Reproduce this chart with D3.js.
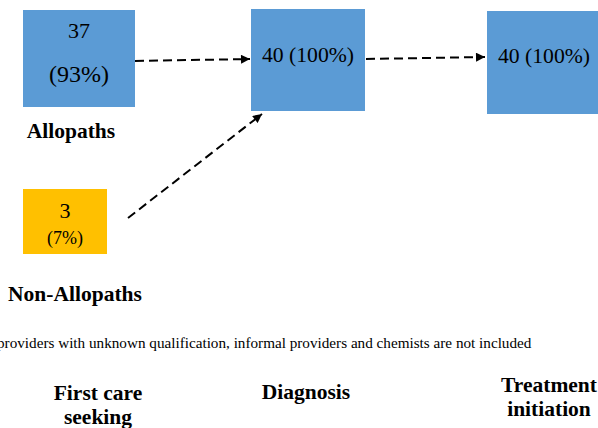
<!DOCTYPE html>
<html>
<head>
<meta charset="utf-8">
<script src="https://cdn.jsdelivr.net/npm/d3@7"></script>
<style>
  body { margin: 0; background: #fff; }
  text { font-family: "Liberation Serif", "Times New Roman", serif; fill: #000; }
</style>
</head>
<body>
<div id="chart"></div>
<script>
// data
var stages = [["First care", "seeking"], ["Diagnosis"], ["Treatment", "initiation"]];
var providers = ["Allopaths", "Non-Allopaths"];
var providerCounts = [37, 3];
var providerPercents = [93, 7];
var diagnosisCount = 40, diagnosisPercent = 100;
var treatmentCount = 40, treatmentPercent = 100;
var footnote = "providers with unknown qualification, informal providers and chemists are not included";

var w = 598, h = 428;

var svg = d3.select("#chart")
  .append("svg")
  .attr("width", w)
  .attr("height", h);

var defs = svg.append("defs");
defs.append("marker")
  .attr("id", "arrow")
  .attr("viewBox", "0 0 10 10")
  .attr("refX", 10)
  .attr("refY", 5)
  .attr("markerWidth", 5)
  .attr("markerHeight", 4.5)
  .attr("markerUnits", "strokeWidth")
  .attr("orient", "auto")
  .append("path")
  .attr("d", "M0,0 L10,5 L0,10 Z")
  .attr("fill", "#000");

// layout (boxes)
var blue = "#5b9bd5", gold = "#ffc000";
var boxes = [
  { x: 23, y: 10, w: 112, h: 97, fill: blue },
  { x: 23, y: 189, w: 84, h: 65, fill: gold },
  { x: 251, y: 9, w: 114, h: 102, fill: blue },
  { x: 487, y: 11, w: 111, h: 103, fill: blue }
];

svg.selectAll(".box")
  .data(boxes)
  .enter()
  .append("rect")
  .attr("class", "box")
  .attr("x", function(d) { return d.x; })
  .attr("y", function(d) { return d.y; })
  .attr("width", function(d) { return d.w; })
  .attr("height", function(d) { return d.h; })
  .attr("fill", function(d) { return d.fill; });

// arrows
var arrows = [
  [135, 61, 250, 59],
  [366, 59, 485, 57],
  [128, 218, 262, 114]
];
svg.selectAll(".arrow")
  .data(arrows)
  .enter()
  .append("line")
  .attr("class", "arrow")
  .attr("x1", function(d) { return d[0]; })
  .attr("y1", function(d) { return d[1]; })
  .attr("x2", function(d) { return d[2]; })
  .attr("y2", function(d) { return d[3]; })
  .attr("stroke", "#000")
  .attr("stroke-width", 2)
  .attr("stroke-dasharray", "9,5")
  .attr("marker-end", "url(#arrow)");

// box texts
svg.append("text").attr("x", 79).attr("y", 38).attr("text-anchor", "middle")
  .attr("font-size", 22).text(providerCounts[0]);
svg.append("text").attr("x", 79).attr("y", 82).attr("text-anchor", "middle")
  .attr("font-size", 24).text("(" + providerPercents[0] + "%)");
svg.append("text").attr("x", 65).attr("y", 218).attr("text-anchor", "middle")
  .attr("font-size", 22).text(providerCounts[1]);
svg.append("text").attr("x", 65).attr("y", 244).attr("text-anchor", "middle")
  .attr("font-size", 18).text("(" + providerPercents[1] + "%)");
svg.append("text").attr("x", 308).attr("y", 62).attr("text-anchor", "middle")
  .attr("font-size", 21.7).text(diagnosisCount + " (" + diagnosisPercent + "%)");
svg.append("text").attr("x", 544).attr("y", 63).attr("text-anchor", "middle")
  .attr("font-size", 21.7).text(treatmentCount + " (" + treatmentPercent + "%)");

// provider labels
var provPos = [[71, 138], [75, 301]];
svg.selectAll(".prov")
  .data(providers)
  .enter()
  .append("text")
  .attr("class", "prov")
  .attr("x", function(d, i) { return provPos[i][0]; })
  .attr("y", function(d, i) { return provPos[i][1]; })
  .attr("text-anchor", "middle")
  .attr("font-size", 21.5)
  .attr("font-weight", "bold")
  .text(function(d) { return d; });

// footnote
svg.append("text")
  .attr("x", -3)
  .attr("y", 348)
  .attr("font-size", 15.2)
  .text(footnote);

// stage labels
var stagePos = [[98, 400], [306, 399], [549, 392]];
var st = svg.selectAll(".stage")
  .data(stages)
  .enter()
  .append("text")
  .attr("class", "stage")
  .attr("text-anchor", "middle")
  .attr("font-size", 21.5)
  .attr("font-weight", "bold")
  .attr("transform", function(d, i) { return "translate(" + stagePos[i][0] + "," + stagePos[i][1] + ")"; });
st.selectAll("tspan")
  .data(function(d) { return d; })
  .enter()
  .append("tspan")
  .attr("x", 0)
  .attr("dy", function(d, i) { return i === 0 ? 0 : 24; })
  .text(function(d) { return d; });
</script>
</body>
</html>
